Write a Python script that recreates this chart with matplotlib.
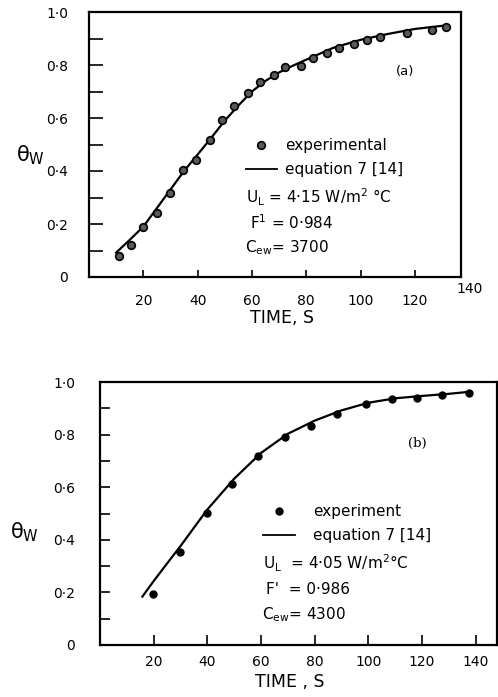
import matplotlib
matplotlib.use("Agg")
import matplotlib.pyplot as plt
from matplotlib.lines import Line2D
from matplotlib.transforms import blended_transform_factory

plt.rcParams['font.family'] = ['DejaVu Sans']
plt.rcParams['mathtext.default'] = 'regular'

# ---------------- data: panel (a) ----------------
a_exp_t = [11, 15.5, 20, 25, 30, 34.5, 39.5, 44.5, 49, 53.5, 58.5, 63, 68, 72,
           78, 82.5, 87.5, 92, 97.5, 102.5, 107, 117, 126.5, 131.5]
a_exp_theta = [0.08, 0.12, 0.187, 0.24, 0.317, 0.404, 0.44, 0.518, 0.591, 0.644,
               0.694, 0.736, 0.761, 0.791, 0.797, 0.826, 0.845, 0.864, 0.88,
               0.893, 0.907, 0.919, 0.931, 0.942]
a_eq_t = [10, 15, 20, 25, 30, 35, 40, 45, 50, 55, 60, 65, 70, 75, 80, 90, 100,
          110, 120, 132]
a_eq_theta = [0.092, 0.14, 0.19, 0.26, 0.33, 0.40, 0.462, 0.525, 0.59, 0.647,
              0.70, 0.74, 0.772, 0.797, 0.82, 0.865, 0.895, 0.917, 0.936, 0.950]

# ---------------- data: panel (b) ----------------
b_exp_t = [19.8, 30, 39.8, 49.3, 59, 68.8, 78.5, 88.5, 99, 109, 118.3, 127.6, 137.5]
b_exp_theta = [0.193, 0.355, 0.501, 0.612, 0.72, 0.79, 0.834, 0.879, 0.916,
               0.935, 0.941, 0.951, 0.960]
b_eq_t = [15.8, 20, 25, 30, 40, 50, 60, 70, 80, 90, 100, 110, 120, 130, 138]
b_eq_theta = [0.184, 0.243, 0.31, 0.376, 0.515, 0.632, 0.73, 0.803, 0.853,
              0.892, 0.921, 0.938, 0.947, 0.955, 0.963]

# ---------------- ticks and labels ----------------
x_ticks = [20, 40, 60, 80, 100, 120, 140]
x_tick_labels = ['20', '40', '60', '80', '100', '120', '140']
y_ticks = [0, 0.2, 0.4, 0.6, 0.8, 1.0]
y_tick_labels = ['0', '0·2', '0·4', '0·6', '0·8', '1·0']
y_minor = [0.1, 0.3, 0.5, 0.7, 0.9]

a_legend = ['experimental', 'equation 7 [14]']
a_params = ['U$_L$ = 4·15 W/m$^2$ °C', 'F$^1$ = 0·984', 'C$_{ew}$= 3700']
b_legend = ['experiment', 'equation 7 [14]']
b_params = ['U$_L$  = 4·05 W/m$^2$°C', "F'  = 0·986", 'C$_{ew}$= 4300']

W, H = 498, 697
fig = plt.figure(figsize=(W / 100, H / 100), dpi=100)


def fx(px):
    return px / W


def fy(py):
    return 1 - py / H


def style_axes(ax, xmax, ytick_len, xtick_len, ylab_pad, xlab_pad):
    ax.set_xlim(0, xmax)
    ax.set_ylim(0, 1.0)
    for s in ax.spines.values():
        s.set_linewidth(1.6)
    ax.set_yticks(y_ticks)
    ax.set_yticklabels(y_tick_labels)
    ax.set_yticks(y_minor, minor=True)
    ax.tick_params(axis='y', which='both', direction='in', length=ytick_len,
                   width=1.2, labelsize=10, pad=ylab_pad)
    ax.tick_params(axis='x', which='both', direction='in', length=xtick_len,
                   width=1.2, labelsize=10, pad=xlab_pad)


# ---------------- panel (a) ----------------
axa = fig.add_axes([fx(89), fy(277), fx(461 - 89), (277 - 12) / H])
style_axes(axa, 137, 10, 5, 15, 12)
ticks_in = [t for t in x_ticks if t <= 137]
axa.set_xticks(ticks_in)
axa.set_xticklabels([l for t, l in zip(x_ticks, x_tick_labels) if t <= 137])
trans = blended_transform_factory(axa.transData, axa.transAxes)
axa.text(x_ticks[-1], -0.045, x_tick_labels[-1], transform=trans, ha='center',
         va='center', fontsize=10, clip_on=False)

axa.plot(a_eq_t, a_eq_theta, color='black', lw=1.6)
axa.plot(a_exp_t, a_exp_theta, linestyle='none', marker='o', ms=5.5,
         mfc='0.35', mec='black', mew=1.2)
axa.set_xlabel('TIME, S', fontsize=12.5)
axa.xaxis.set_label_coords((282 - 89) / 372, (277 - 309) / 265)
axa.set_ylabel('θ$_W$', fontsize=15, rotation=0, va='center', ha='center')
axa.yaxis.set_label_coords((30 - 89) / 372, (277 - 155) / 265)
axa.text((405 - 89) / 372, (277 - 71) / 265, '(a)', transform=axa.transAxes,
         ha='center', va='center', fontsize=9.5)

ha_ = [Line2D([], [], linestyle='none', marker='o', ms=5.5, mfc='0.35',
              mec='black', mew=1.2),
       Line2D([], [], color='black', lw=1.3)]
axa.legend(ha_, a_legend, loc='upper left', frameon=False,
           bbox_to_anchor=(fx(246), fy(138)), bbox_transform=fig.transFigure,
           borderpad=0, borderaxespad=0, handlelength=2.0,
           handletextpad=0.55, labelspacing=0.62, fontsize=11)
for txt, (px, py) in zip(a_params, [(246, 197), (250, 223), (245, 248)]):
    fig.text(fx(px), fy(py), txt, ha='left', va='center', fontsize=11)

# ---------------- panel (b) ----------------
axb = fig.add_axes([fx(100), fy(645), fx(497 - 100), (645 - 382) / H])
style_axes(axb, 148, 7, 7, 18, 7)
axb.set_xticks(x_ticks)
axb.set_xticklabels(x_tick_labels)

axb.plot(b_eq_t, b_eq_theta, color='black', lw=1.6)
axb.plot(b_exp_t, b_exp_theta, linestyle='none', marker='o', ms=5,
         mfc='black', mec='black')
axb.set_xlabel('TIME , S', fontsize=12.5)
axb.xaxis.set_label_coords((290 - 100) / 397, (645 - 673) / 263)
axb.set_ylabel('θ$_W$', fontsize=15, rotation=0, va='center', ha='center')
axb.yaxis.set_label_coords((24 - 100) / 397, (645 - 532) / 263)
axb.text((417 - 100) / 397, (645 - 443) / 263, '(b)', transform=axb.transAxes,
         ha='center', va='center', fontsize=9.5, family='DejaVu Serif')

hb_ = [Line2D([], [], linestyle='none', marker='o', ms=5, mfc='black',
              mec='black'),
       Line2D([], [], color='black', lw=1.3)]
axb.legend(hb_, b_legend, loc='upper left', frameon=False,
           bbox_to_anchor=(fx(263), fy(504)), bbox_transform=fig.transFigure,
           borderpad=0, borderaxespad=0, handlelength=2.1,
           handletextpad=1.2, labelspacing=0.6, fontsize=11)
for txt, (px, py) in zip(b_params, [(263, 563), (266, 590), (262, 615)]):
    fig.text(fx(px), fy(py), txt, ha='left', va='center', fontsize=11)

fig.savefig('out.png', dpi=100)
